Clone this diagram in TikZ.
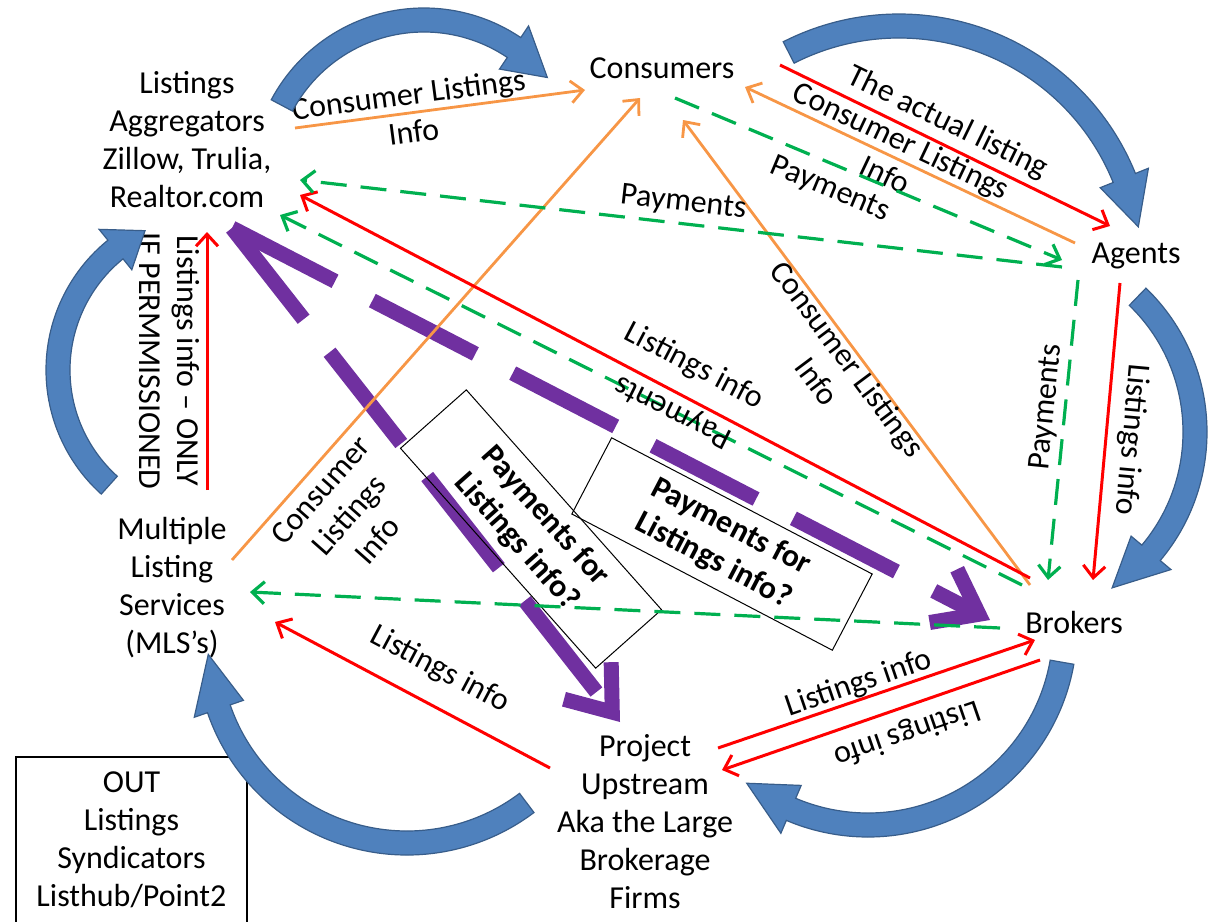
\documentclass[tikz,border=0pt]{standalone}
\usepackage{fontspec}
\setmainfont{Carlito}
\usetikzlibrary{arrows.meta}
\definecolor{cycleblue}{RGB}{79,129,189}
\definecolor{cycleedge}{RGB}{56,93,138}
\definecolor{flowred}{RGB}{255,0,0}
\definecolor{floworange}{RGB}{247,150,70}
\definecolor{flowgreen}{RGB}{0,176,80}
\definecolor{flowpurple}{RGB}{112,48,160}
\tikzstyle{barb} = [-{Straight Barb[length=6pt, width=11pt]}]
\tikzset{
    actor/.style={font=\fontsize{16}{19}\selectfont, align=center, inner sep=3pt},
    flowlabel/.style={font=\fontsize{16}{19}\selectfont, align=center, inner sep=3pt},
    infoflow/.style={barb, draw=flowred, line width=1.5pt},
    consumerflow/.style={barb, draw=floworange, line width=1.4pt},
    payflow/.style={barb, draw=flowgreen, line width=1.6pt, dash pattern=on 13pt off 7pt},
    bigpay/.style={-{Straight Barb[length=20pt, width=30pt]}, draw=flowpurple,
        line width=7.5pt, dash pattern=on 58pt off 21pt},
    questionbox/.style={draw, line width=0.5pt, align=center,
        font=\fontsize{16}{19}\selectfont\bfseries, minimum width=147pt, minimum height=44pt},
    cyclearrow/.style={fill=cycleblue, draw=cycleedge, line width=0.6pt},
}
% block arc: centre x, centre y, radius, start angle, head angle, tip angle
\newcommand{\cyclearc}[6]{%
    \pgfmathsetmacro{\arcout}{#3+12}%
    \pgfmathsetmacro{\arcin}{#3-12}%
    \pgfmathsetmacro{\barbout}{#3+26}%
    \pgfmathsetmacro{\barbin}{#3-26}%
    \filldraw[cyclearrow, shift={(#1,#2)}]
        (#4:\arcout) arc[start angle=#4, end angle=#5, radius=\arcout]
        -- (#5:\barbout) -- (#6:#3) -- (#5:\barbin) -- (#5:\arcin)
        arc[start angle=#5, end angle=#4, radius=\arcin] -- cycle;}

\begin{document}
\begin{tikzpicture}[x=0.5pt, y=-0.5pt]
    \useasboundingbox (0,0) rectangle (1215,921);

    % parties
    \node[actor] (agg) at (187,140) {Listings\\Aggregators\\Zillow, Trulia,\\Realtor.com};
    \node[actor] (cons) at (662,68) {Consumers};
    \node[actor] (agents) at (1136,256) {Agents};
    \node[actor] (brokers) at (1074,622) {Brokers};
    \node[actor] (upstream) at (645,822) {Project\\Upstream\\Aka the Large\\Brokerage\\Firms};
    \node[actor] (mls) at (172,588) {Multiple\\Listing\\Services\\(MLS’s)};
    \node[actor, draw, line width=0.6pt, minimum width=115.5pt, minimum height=83pt]
        (syndicators) at (131.5,840) {OUT\\Listings\\Syndicators\\Listhub/Point2};

    % payments for listings info?
    \draw[bigpay] ([shift={(45,88)}]agg.center) -- ([shift={(-84,-2)}]brokers.center);
    \draw[bigpay] ([shift={(45,88)}]agg.center) -- ([shift={(-25,-100)}]upstream.center);
    \node[questionbox, rotate=-48.4] (paybox1) at (531,529) {Payments for\\Listings info?};
    \node[questionbox, rotate=-27.6, minimum height=43pt] (paybox2) at (722,544) {Payments for\\Listings info?};

    % consumer listings info
    \draw[consumerflow] ([shift={(108,-12)}]agg.center)
        -- node[flowlabel, sloped, pos=0.4] {Consumer Listings\\Info} ([shift={(-77,22)}]cons.center);
    \draw[consumerflow] ([shift={(60,-28)}]mls.center)
        -- node[flowlabel, sloped, pos=0.18, below=1pt] {Consumer\\Listings\\Info} ([shift={(-22,30)}]cons.center);
    \draw[consumerflow] ([shift={(-44,-37)}]brokers.center)
        -- node[flowlabel, sloped, pos=0.5, below=-4pt] {Consumer Listings\\Info} ([shift={(21,52)}]cons.center);
    \draw[consumerflow] ([shift={(-61,-13)}]agents.center)
        -- node[flowlabel, sloped, pos=0.55] {Consumer Listings\\Info} ([shift={(83,19)}]cons.center);

    % listings info
    \draw[infoflow] ([shift={(118,-3)}]cons.center)
        -- node[flowlabel, sloped, pos=0.48, above] {The actual listing} ([shift={(-26,-30)}]agents.center);
    \draw[infoflow] ([shift={(-16,27)}]agents.center)
        -- node[flowlabel, sloped, allow upside down, pos=0.52, above=2pt] {Listings info} ([shift={(19,-42)}]brokers.center);
    \draw[infoflow] ([shift={(-44,-44)}]brokers.center)
        -- node[flowlabel, sloped, pos=0.48, above=5pt] {Listings info} ([shift={(113,55)}]agg.center);
    \draw[infoflow] ([shift={(35,-98)}]mls.center)
        -- node[flowlabel, pos=0.5, rotate=-90, anchor=north] {Listings info – ONLY\\IF PERMMISSIONED} ([shift={(20,92)}]agg.center);
    \draw[infoflow] ([shift={(-95,-54)}]upstream.center)
        -- node[flowlabel, sloped, pos=0.46, above=7pt] {Listings info} ([shift={(103,34)}]mls.center);
    \draw[infoflow] ([shift={(73,-74)}]upstream.center)
        -- node[flowlabel, sloped, pos=0.46, above=-3pt] {Listings info} ([shift={(-39,18)}]brokers.center);
    \draw[infoflow] ([shift={(-34,38)}]brokers.center)
        -- node[flowlabel, sloped, allow upside down, pos=0.445, above=2pt] {Listings info} ([shift={(77,-52)}]upstream.center);

    % payments
    \draw[payflow] ([shift={(13,30)}]cons.center)
        -- node[flowlabel, sloped, pos=0.425, below=2pt] {Payments} ([shift={(-74,4)}]agents.center);
    \draw[payflow] ([shift={(-74,11)}]agents.center)
        -- node[flowlabel, sloped, pos=0.5, above] {Payments} ([shift={(113,40)}]agg.center);
    \draw[payflow] ([shift={(-52,-37)}]brokers.center)
        -- node[flowlabel, sloped, allow upside down, pos=0.47] {Payments} ([shift={(93,75)}]agg.center);
    \draw[payflow] ([shift={(-58,24)}]agents.center)
        -- node[flowlabel, sloped, pos=0.43, above=-1pt] {Payments} ([shift={(-26,-42)}]brokers.center);
    \draw[payflow] ([shift={(-74,6)}]brokers.center) -- ([shift={(78,4)}]mls.center);

    % the cycle of block arrows
    \cyclearc{424}{181}{161}{208}{304}{320}
    \cyclearc{899}{269}{243}{243}{338}{350}
    \cyclearc{1007}{432}{188}{314}{400}{416}
    \cyclearc{868}{628}{197}{10}{113}{128}
    \cyclearc{407}{644}{199}{53}{161}{177}
    \cyclearc{213}{370}{155}{132}{231}{244}
\end{tikzpicture}
\end{document}
